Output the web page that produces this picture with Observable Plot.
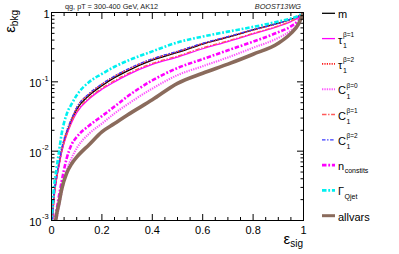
<!DOCTYPE html>
<html><head><meta charset="utf-8">
<script src="https://cdn.jsdelivr.net/npm/d3@7"></script>
<script src="https://cdn.jsdelivr.net/npm/@observablehq/plot@0.6"></script>
<style>
html,body{margin:0;padding:0;background:#fff;}
#chart{width:399px;height:254px;}
svg{font-family:"Liberation Sans",Arial,sans-serif;}
</style></head><body><div id="chart"></div>
<script>
// ---- data ----
const sigEff     = [0,0.01,0.02,0.03,0.04,0.06,0.08,0.10,0.15,0.20,0.25,0.30,0.40,0.50,0.60,0.70,0.80,0.90,0.95,0.98,1.00];
const bkgMass    = [0.0006,0.0022,0.0041,0.0065,0.010,0.018,0.028,0.040,0.064,0.088,0.115,0.143,0.205,0.265,0.35,0.44,0.56,0.70,0.80,0.88,1];
const bkgTau1B1  = [0.0006,0.0021,0.0039,0.0062,0.0095,0.017,0.026,0.036,0.057,0.078,0.100,0.125,0.178,0.228,0.30,0.38,0.49,0.63,0.74,0.85,1];
const bkgTau1B2  = [0.0006,0.0023,0.0043,0.0068,0.0105,0.019,0.029,0.042,0.067,0.092,0.120,0.149,0.212,0.272,0.355,0.445,0.56,0.70,0.80,0.88,1];
const bkgC1B0    = [0.0002,0.0005,0.0010,0.0016,0.0025,0.0052,0.0080,0.0110,0.0180,0.025,0.035,0.047,0.080,0.125,0.168,0.225,0.31,0.43,0.55,0.70,1];
const bkgC1B1    = [0.0006,0.0021,0.0040,0.0063,0.0097,0.0172,0.0265,0.037,0.059,0.081,0.104,0.130,0.185,0.235,0.31,0.39,0.50,0.64,0.75,0.86,1];
const bkgC1B2    = [0.0006,0.0023,0.0044,0.0069,0.0107,0.0192,0.0295,0.0425,0.068,0.093,0.121,0.151,0.215,0.276,0.36,0.45,0.565,0.70,0.80,0.88,1];
const bkgNconst  = [0.0003,0.0008,0.0014,0.0023,0.0036,0.0078,0.0125,0.0160,0.0235,0.032,0.044,0.061,0.105,0.158,0.213,0.285,0.38,0.52,0.63,0.77,1];
const bkgQjet    = [0.0009,0.0030,0.0056,0.0100,0.0175,0.034,0.048,0.064,0.100,0.130,0.165,0.200,0.275,0.37,0.45,0.53,0.62,0.74,0.82,0.90,1];
const bkgAllvars = [0.0001,0.0006,0.0012,0.0018,0.0028,0.0048,0.0066,0.0082,0.0125,0.019,0.025,0.033,0.055,0.095,0.133,0.18,0.25,0.36,0.50,0.68,1];

const seriesKeys = ["m","tau1b1","tau1b2","c1b0","c1b1","c1b2","nconst","qjet","allvars"];
const seriesValues = [bkgMass,bkgTau1B1,bkgTau1B2,bkgC1B0,bkgC1B1,bkgC1B2,bkgNconst,bkgQjet,bkgAllvars];
const legendLabels = [
  {main:"m"},
  {main:"τ", sub:"1", sup:"β=1"},
  {main:"τ", sub:"1", sup:"β=2"},
  {main:"C", sub:"1", sup:"β=0"},
  {main:"C", sub:"1", sup:"β=1"},
  {main:"C", sub:"1", sup:"β=2"},
  {main:"n", sub:"constits"},
  {main:"Γ", sub:"Qjet"},
  {main:"allvars"}
];
const xMajor = [0,0.2,0.4,0.6,0.8,1];
const xMajorLabels = ["0","0.2","0.4","0.6","0.8","1"];
const xMinor = d3.range(0,1.0001,0.05).filter(v => Math.abs(v*5 - Math.round(v*5)) > 1e-6);
const yMajor = [1e-3,1e-2,1e-1,1];
const yPowTicks = [1e-3,1e-2,1e-1];
const yPowBase = ["10","10","10"];
const yPowExp = ["-3","-2","-1"];
const yUnitTick = [1];
const yUnitLabel = ["1"];
const yMinor = [1e-3,1e-2,1e-1].flatMap(d => [2,3,4,5,6,7,8,9].map(k => k*d));
const titleText = "qg, pT = 300-400 GeV, AK12";
const tagText = "BOOST13WG";

// ---- styles ----
const styles = {
  m:       {stroke:"#000000", width:1.3, dash:null},
  tau1b1:  {stroke:"#ff00ff", width:1.3, dash:null},
  tau1b2:  {stroke:"#ff1a1a", width:1.8, dash:"1.2,1.2"},
  c1b0:    {stroke:"#ff55ff", width:2.1, dash:"1.3,1.1"},
  c1b1:    {stroke:"#ff5a5a", width:1.3, dash:"4.5,1.6,1.4,1.6"},
  c1b2:    {stroke:"#3a3aff", width:1.3, dash:"3.5,1.6,1.4,1.6"},
  nconst:  {stroke:"#ff00ff", width:2.6, dash:"4.5,1.8,1.8,1.8"},
  qjet:    {stroke:"#00f0f0", width:2.6, dash:"4.5,1.8,1.8,1.8"},
  allvars: {stroke:"#8a6b5c", width:3.6, dash:null}
};

const rows = seriesKeys.map((k,i) => sigEff.map((x,j) => ({key:k, x, y:seriesValues[i][j]})));

const lineMarks = seriesKeys.map((k,i) => Plot.line(rows[i], {
  x:"x", y:"y", stroke: styles[k].stroke, strokeWidth: styles[k].width,
  strokeDasharray: styles[k].dash || undefined,
  strokeLinecap: styles[k].dash ? "butt" : "round",
  curve:"monotone-x", clip:true,
  ariaDescription: "series-" + k
}));

const blank = () => "";
const chart = Plot.plot({
  width:399, height:254,
  marginLeft:51, marginRight:96, marginTop:12, marginBottom:34,
  style:{fontFamily:"Liberation Sans, Arial, sans-serif", background:"white", color:"black", overflow:"visible"},
  x:{domain:[0,1]},
  y:{type:"log", domain:[1e-3,1]},
  marks:[
    ...lineMarks,
    Plot.frame({stroke:"black", strokeWidth:1}),
    Plot.axisX(xMajor, {anchor:"bottom", tickSize:6, dy:-6, tickFormat:blank, label:null}),
    Plot.axisX(xMinor, {anchor:"bottom", tickSize:3, dy:-3, tickFormat:blank, label:null}),
    Plot.axisX(xMajor, {anchor:"top", tickSize:6, dy:6, tickFormat:blank, label:null}),
    Plot.axisX(xMinor, {anchor:"top", tickSize:3, dy:3, tickFormat:blank, label:null}),
    Plot.axisY(yMajor, {anchor:"left", tickSize:7, dx:7, tickFormat:blank, label:null}),
    Plot.axisY(yMinor, {anchor:"left", tickSize:3.5, dx:3.5, tickFormat:blank, label:null}),
    Plot.axisY(yMajor, {anchor:"right", tickSize:7, dx:-7, tickFormat:blank, label:null}),
    Plot.axisY(yMinor, {anchor:"right", tickSize:3.5, dx:-3.5, tickFormat:blank, label:null}),
    Plot.axisX(xMajor, {anchor:"bottom", tickSize:0, tickPadding:6, fontSize:11, tickFormat:(d,i)=>xMajorLabels[i], label:null}),
    Plot.text(yPowTicks, {y:d=>d, text:(d,i)=>yPowBase[i], frameAnchor:"left", textAnchor:"end", dx:-10, dy:2, fontSize:11}),
    Plot.text(yPowTicks, {y:d=>d, text:(d,i)=>yPowExp[i], frameAnchor:"left", textAnchor:"start", dx:-9.6, dy:-3.5, fontSize:7.5}),
    Plot.text(yUnitTick, {y:d=>d, text:(d,i)=>yUnitLabel[i], frameAnchor:"left", textAnchor:"end", dx:-2, dy:2, fontSize:11})
  ]
});
document.getElementById("chart").appendChild(chart);
const svg = d3.select(chart);

seriesKeys.forEach(k => {
  if (styles[k].dash) svg.selectAll(`g[aria-description="series-${k}"] path`)
    .attr("stroke-dasharray", styles[k].dash).attr("stroke-linecap","butt");
});

// title & tag
svg.append("text").attr("x",65).attr("y",9).attr("font-size",7.3).attr("text-anchor","start").attr("fill","#222").text(titleText);
svg.append("text").attr("x",301).attr("y",9).attr("font-size",7.3).attr("font-style","italic").attr("text-anchor","end").attr("fill","#222").text(tagText);

// axis titles
const xt = svg.append("text").attr("x",303).attr("y",243.5).attr("text-anchor","end").attr("font-size",15);
xt.append("tspan").text("ε");
xt.append("tspan").attr("dy",3).attr("font-size",10).text("sig");
const yt = svg.append("text").attr("transform","translate(15,10) rotate(-90)").attr("text-anchor","end").attr("font-size",15);
yt.append("tspan").text("ε");
yt.append("tspan").attr("dy",3).attr("font-size",10).text("bkg");

// legend
const legTop = 13.3, legStep = 25.3, lx0 = 322, lx1 = 335, tx = 338;
seriesKeys.forEach((k,i) => {
  const y = legTop + i*legStep;
  const st = styles[k];
  svg.append("line").attr("x1",lx0).attr("x2",lx1).attr("y1",y).attr("y2",y)
    .attr("stroke",st.stroke).attr("stroke-width",Math.min(st.width,3))
    .attr("stroke-dasharray", st.dash || null);
  const lab = legendLabels[i];
  const t = svg.append("text").attr("x",tx).attr("y",y+5).attr("font-size",11).attr("text-anchor","start");
  t.append("tspan").text(lab.main);
  if (lab.sup) {
    t.append("tspan").attr("dx",0.6).attr("dy",4.5).attr("font-size",7).text(lab.sub);
    t.append("tspan").attr("dx",-3.9).attr("dy",-11).attr("font-size",6.5).text(lab.sup);
  } else if (lab.sub) {
    t.append("tspan").attr("dx",0.5).attr("dy",k==="qjet"?3.5:3).attr("font-size",7).text(lab.sub);
  }
});
</script></body></html>
